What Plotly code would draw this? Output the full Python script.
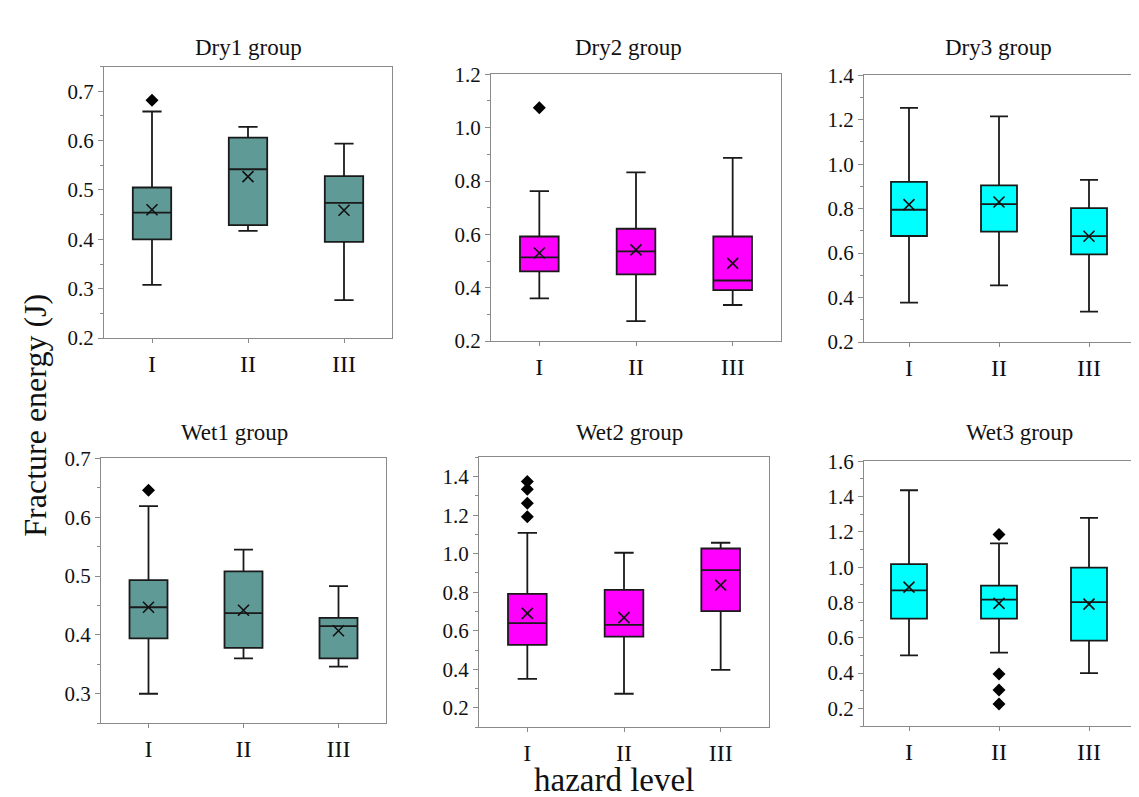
import plotly.graph_objects as go

levels = ["I", "II", "III"]
panels = ["Dry1 group", "Dry2 group", "Dry3 group", "Wet1 group", "Wet2 group", "Wet3 group"]

dry1_lower = [0.308, 0.417, 0.277]
dry1_q1 = [0.400, 0.429, 0.395]
dry1_median = [0.454, 0.542, 0.474]
dry1_q3 = [0.505, 0.606, 0.528]
dry1_upper = [0.659, 0.628, 0.594]
dry1_mean = [0.460, 0.527, 0.459]
dry1_out_x = ["I"]
dry1_out_y = [0.682]

dry2_lower = [0.360, 0.275, 0.335]
dry2_q1 = [0.461, 0.450, 0.391]
dry2_median = [0.514, 0.536, 0.427]
dry2_q3 = [0.592, 0.621, 0.592]
dry2_upper = [0.762, 0.832, 0.887]
dry2_mean = [0.530, 0.542, 0.491]
dry2_out_x = ["I"]
dry2_out_y = [1.075]

dry3_lower = [0.377, 0.455, 0.337]
dry3_q1 = [0.677, 0.697, 0.594]
dry3_median = [0.795, 0.820, 0.676]
dry3_q3 = [0.920, 0.905, 0.802]
dry3_upper = [1.253, 1.215, 0.929]
dry3_mean = [0.818, 0.830, 0.676]
dry3_out_x = []
dry3_out_y = []

wet1_lower = [0.300, 0.360, 0.346]
wet1_q1 = [0.394, 0.378, 0.360]
wet1_median = [0.447, 0.437, 0.415]
wet1_q3 = [0.493, 0.508, 0.429]
wet1_upper = [0.619, 0.545, 0.483]
wet1_mean = [0.447, 0.442, 0.407]
wet1_out_x = ["I"]
wet1_out_y = [0.646]

wet2_lower = [0.350, 0.273, 0.397]
wet2_q1 = [0.527, 0.570, 0.702]
wet2_median = [0.640, 0.630, 0.915]
wet2_q3 = [0.792, 0.812, 1.027]
wet2_upper = [1.108, 1.005, 1.057]
wet2_mean = [0.690, 0.668, 0.837]
wet2_out_x = ["I", "I", "I", "I"]
wet2_out_y = [1.375, 1.335, 1.262, 1.192]

wet3_lower = [0.500, 0.516, 0.400]
wet3_q1 = [0.709, 0.709, 0.584]
wet3_median = [0.869, 0.816, 0.802]
wet3_q3 = [1.018, 0.896, 0.998]
wet3_upper = [1.436, 1.135, 1.280]
wet3_mean = [0.887, 0.795, 0.791]
wet3_out_x = ["II", "II", "II", "II"]
wet3_out_y = [1.185, 0.395, 0.305, 0.225]

y_ranges = [[0.2, 0.75], [0.2, 1.2], [0.2, 1.4], [0.25, 0.7], [0.1, 1.5], [0.1, 1.6]]
y_dticks = [0.1, 0.2, 0.2, 0.1, 0.2, 0.2]

data = [
    (dry1_lower, dry1_q1, dry1_median, dry1_q3, dry1_upper, dry1_mean, dry1_out_x, dry1_out_y),
    (dry2_lower, dry2_q1, dry2_median, dry2_q3, dry2_upper, dry2_mean, dry2_out_x, dry2_out_y),
    (dry3_lower, dry3_q1, dry3_median, dry3_q3, dry3_upper, dry3_mean, dry3_out_x, dry3_out_y),
    (wet1_lower, wet1_q1, wet1_median, wet1_q3, wet1_upper, wet1_mean, wet1_out_x, wet1_out_y),
    (wet2_lower, wet2_q1, wet2_median, wet2_q3, wet2_upper, wet2_mean, wet2_out_x, wet2_out_y),
    (wet3_lower, wet3_q1, wet3_median, wet3_q3, wet3_upper, wet3_mean, wet3_out_x, wet3_out_y),
]

W, H = 1139, 797
colors = ["#5F9A97", "#FF00FF", "#00FFFF", "#5F9A97", "#FF00FF", "#00FFFF"]
# pixel boxes: (left, right, top, bottom)
px_boxes = [(96, 384, 48, 328), (483, 773, 56, 331), (856, 1126, 57, 332),
            (93, 378, 452, 725), (471, 761, 451, 729), (856, 1126, 455, 728)]
title_pos = [(240, 28), (620, 28), (990, 28), (226, 425), (621, 425), (1011, 425)]

FONT = "Liberation Serif"
fig = go.Figure()
layout = dict(width=W, height=H, margin=dict(l=0, r=0, t=0, b=0),
              paper_bgcolor="white", plot_bgcolor="white", showlegend=False,
              font=dict(family=FONT, color="#1a1a1a"))
annotations = []
for i, (lo, q1, med, q3, up, mn, ox, oy) in enumerate(data):
    n = i + 1
    xa = "x" if n == 1 else f"x{n}"
    ya = "y" if n == 1 else f"y{n}"
    fig.add_trace(go.Box(x=levels, q1=q1, median=med, q3=q3, lowerfence=lo, upperfence=up,
                         xaxis=xa, yaxis=ya, width=0.4, whiskerwidth=0.5,
                         fillcolor=colors[i], line=dict(color="#1a1a1a", width=1.8),
                         boxpoints=False, hoverinfo="skip"))
    fig.add_trace(go.Scatter(x=levels, y=mn, mode="markers", xaxis=xa, yaxis=ya,
                             marker=dict(symbol="x-thin", size=11,
                                         line=dict(color="#111111", width=1.6))))
    if ox:
        fig.add_trace(go.Scatter(x=ox, y=oy, mode="markers", xaxis=xa, yaxis=ya,
                                 marker=dict(symbol="diamond", size=10, color="black")))
    l, r, t, b = px_boxes[i]
    key = "" if n == 1 else str(n)
    layout["xaxis" + key] = dict(domain=[l / W, r / W], anchor=ya, type="category",
                                 categoryorder="array", categoryarray=levels,
                                 range=[-0.5, 2.5], showline=True, mirror=True,
                                 linecolor="#8a8a8a", linewidth=1.2, ticks="outside",
                                 ticklen=4, tickcolor="#8a8a8a", showgrid=False,
                                 zeroline=False, tickfont=dict(size=24, family=FONT, color="#111111"))
    layout["yaxis" + key] = dict(domain=[1 - b / H, 1 - t / H], anchor=xa,
                                 range=y_ranges[i], dtick=y_dticks[i], tick0=0,
                                 tickformat=".1f", showline=True, mirror=True,
                                 linecolor="#8a8a8a", linewidth=1.2, ticks="outside",
                                 ticklen=5, tickcolor="#8a8a8a", showgrid=False, zeroline=False,
                                 minor=dict(dtick=y_dticks[i] / 2, ticks="outside", ticklen=3,
                                            tickcolor="#8a8a8a", showgrid=False),
                                 tickfont=dict(size=21, family=FONT, color="#111111"))
    tx, ty = title_pos[i]
    annotations.append(dict(text=panels[i], x=tx / W, y=1 - ty / H, xref="paper", yref="paper",
                            showarrow=False, xanchor="center", yanchor="middle",
                            font=dict(size=23, family=FONT, color="#111111")))

annotations.append(dict(text="Fracture energy (J)", x=27 / W, y=1 - 408 / H, xref="paper",
                        yref="paper", showarrow=False, textangle=-90, xanchor="center",
                        yanchor="middle", font=dict(size=32, family=FONT, color="#111111")))
annotations.append(dict(text="hazard level", x=606 / W, y=1 - 784 / H, xref="paper",
                        yref="paper", showarrow=False, xanchor="center", yanchor="middle",
                        font=dict(size=33, family=FONT, color="#111111")))
layout["annotations"] = annotations
fig.update_layout(**layout)
fig.write_html("out.html")
